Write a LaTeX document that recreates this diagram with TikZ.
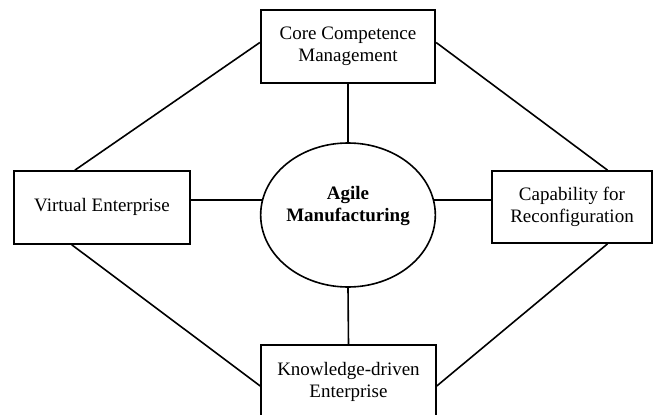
\documentclass[tikz,border=0pt]{standalone}
\usepackage{fontspec}
\setmainfont{Liberation Serif}
\usetikzlibrary{shapes.geometric,calc}
\begin{document}
\begin{tikzpicture}[x=1pt,y=-1pt,
  box/.style={draw, line width=1.6pt, inner sep=0pt, align=center,
    font=\fontsize{19}{22}\selectfont},
  hub/.style={draw, ellipse, line width=1.6pt, inner sep=0pt, align=center,
    minimum width=174pt, minimum height=144pt,
    font=\fontsize{19}{22}\selectfont\bfseries},
  link/.style={line width=1.6pt},
  spoke/.style={line width=2.4pt}]
\useasboundingbox (0,0) rectangle (654,415);
\clip (0,0) rectangle (654,415);
\node[hub] (am) at (348,215) {\raisebox{5pt}[0pt][0pt]{\begin{tabular}{@{}c@{}}Agile\\Manufacturing\end{tabular}}};
\node[box, line width=2.3pt, minimum width=174pt, minimum height=73pt] (cc) at (348,46.5) {Core Competence\\Management};
\node[box, minimum width=176pt, minimum height=73pt] (ve) at (102,207.5) {\raisebox{-4pt}[0pt][0pt]{Virtual Enterprise}};
\node[box, minimum width=160pt, minimum height=72pt] (cr) at (572,207) {Capability for\\Reconfiguration};
\node[box, minimum width=175pt, minimum height=73pt] (kd) at (348.5,381.5) {Knowledge-driven\\Enterprise};
% spokes
\draw[spoke] (cc.south) -- (am.north);
\draw[link] (am.south) -- (kd.north);
\draw[spoke] (am.170 -| ve.east) -- (am.170);
\draw[spoke] (am.10) -- (am.10 -| cr.west);
% diagonals
\coordinate (ccw) at ($(cc.west)+(0,-4)$);
\coordinate (cce) at ($(cc.east)+(0,-4)$);
\coordinate (vet) at ($(ve.north west)!0.347!(ve.north east)$);
\coordinate (veb) at ($(ve.south west)!0.33!(ve.south east)$);
\coordinate (crt) at ($(cr.north west)!0.72!(cr.north east)$);
\coordinate (crb) at ($(cr.south west)!0.72!(cr.south east)$);
\coordinate (kdw) at ($(kd.north west)!0.56!(kd.south west)$);
\coordinate (kde) at ($(kd.north east)!0.56!(kd.south east)$);
\draw[link] (ccw) -- (vet);
\draw[link] (cce) -- (crt);
\draw[link] (veb) -- (kdw);
\draw[link] (crb) -- (kde);
\end{tikzpicture}
\end{document}
